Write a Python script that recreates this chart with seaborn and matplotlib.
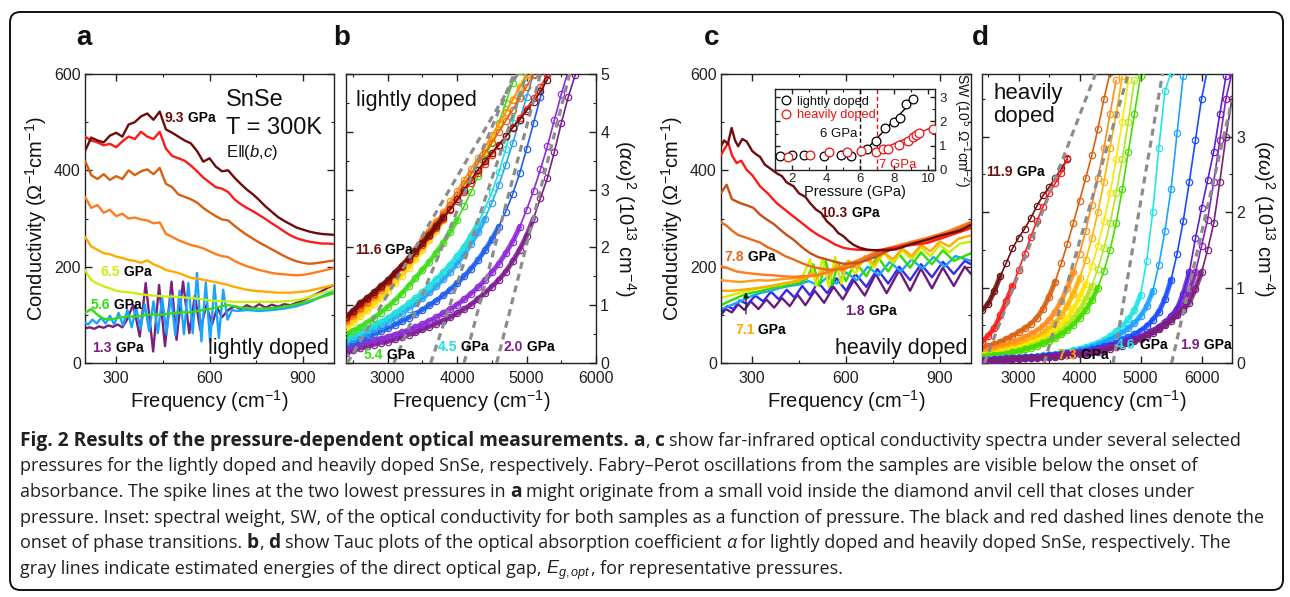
import numpy as np
import matplotlib
matplotlib.use("Agg")
import matplotlib.pyplot as plt
import seaborn as sns
from matplotlib.ticker import MultipleLocator
from matplotlib.patches import FancyBboxPatch
from matplotlib.lines import Line2D

# ---------------- panel a : lightly doped, far-IR conductivity (grid 200..1000 step 20)
A_START, A_STEP = 200, 20
a_maroon = [440,468,462,458,472,478,470,495,500,512,518,505,522,485,478,470,462,456,440,418,425,408,398,400,385,372,360,350,338,325,314,303,295,288,281,277,273,270,268,267,266]
a_red = [470,462,458,452,455,448,460,470,465,480,470,465,480,445,430,425,420,410,398,385,375,365,362,355,340,330,322,315,307,299,290,282,273,265,259,255,252,250,248,248,247]
a_dorange = [420,390,382,392,380,388,382,400,390,398,402,392,405,372,365,350,345,340,333,322,313,305,298,296,285,275,266,258,250,243,236,229,222,216,211,208,206,207,209,211,213]
a_orange = [345,322,328,312,318,305,310,300,302,298,296,290,292,268,262,255,250,245,242,238,232,226,222,220,212,206,201,197,193,190,187,185,184,183,182,183,185,188,191,194,197]
a_amber = [262,242,235,228,226,221,218,214,212,208,213,205,200,193,190,187,182,177,175,173,170,168,165,162,158,155,152,150,149,148,147,146,146,146,147,148,150,153,156,159,162]
a_ygreen = [193,172,165,159,155,150,148,147,145,143,141,140,139,138,138,137,136,135,134,132,130,129,128,128,127,127,127,127,127,127,127,127,128,129,130,133,137,141,145,149,152]
a_green = [104,112,100,92,90,93,95,97,96,98,100,101,100,102,103,104,106,105,108,110,112,115,118,120,118,115,114,113,113,113,114,115,117,119,122,125,129,133,137,141,145]
a_lblue_f = [200,210,224,238,252,266,280,294,308,322,336,350,364,378,392,406,420,434,448,462,476,490,504,518,532,546,560,574,588,602,616,630,644,658,672,690,720,760,800,840,880,920,960,1000]
a_lblue_s = [84,80,90,82,94,82,98,80,104,78,110,74,116,70,122,66,128,62,135,60,142,58,150,60,166,62,187,45,167,45,162,52,152,90,110,108,110,108,110,113,118,126,138,150]
a_purple_f = [200,215,230,245,260,275,290,305,320,335,355,376,395,419,438,457,478,494,515,535,553,570,590,608,625,640,660,680,700,720,740,760,780,800,820,840,860,880,900,940,980,1000]
a_purple_s = [72,74,71,76,73,78,75,80,74,90,121,55,166,24,162,35,169,48,169,62,140,69,120,80,115,95,110,118,112,120,114,122,115,121,117,122,120,125,130,142,156,162]

# ---------------- panel b : lightly doped Tauc plot (grid from 2400 step 100)
B_START, B_STEP = 2400, 100
b_dpurple = [.18,.22,.26,.29,.32,.35,.37,.41,.45,.49,.53,.58,.63,.68,.73,.79,.86,.93,1.01,1.11,1.21,1.32,1.44,1.58,1.76,1.96,2.20,2.50,2.85,3.20,3.65,4.15,4.60,4.98]
b_violet = [.25,.29,.33,.36,.39,.42,.45,.49,.53,.57,.62,.67,.73,.79,.86,.93,1.01,1.10,1.20,1.31,1.43,1.57,1.72,1.90,2.10,2.35,2.65,2.98,3.35,3.75,4.20,4.65,5.05]
b_blue = [.32,.36,.40,.45,.50,.55,.60,.66,.72,.78,.85,.92,1.00,1.08,1.17,1.27,1.38,1.50,1.63,1.78,1.95,2.14,2.36,2.62,2.92,3.28,3.70,4.15,4.60,5.02]
b_azure = [.36,.41,.46,.52,.58,.64,.71,.78,.86,.94,1.03,1.12,1.22,1.33,1.45,1.58,1.72,1.88,2.06,2.26,2.50,2.77,3.08,3.43,3.80,4.20,4.60,5.0]
b_cyan = [.42,.47,.53,.59,.65,.71,.78,.86,.94,1.03,1.12,1.22,1.33,1.45,1.57,1.70,1.85,2.01,2.20,2.42,2.67,2.95,3.30,3.70,4.15,4.62,5.0]
b_green = [.50,.56,.62,.70,.78,.87,.97,1.08,1.20,1.33,1.47,1.61,1.75,1.91,2.08,2.27,2.48,2.71,2.96,3.23,3.52,3.83,4.15,4.50,4.85,5.05]
b_yellow = [.62,.71,.81,.91,1.02,1.13,1.25,1.38,1.51,1.65,1.80,1.96,2.12,2.29,2.47,2.65,2.84,3.04,3.24,3.45,3.66,3.88,4.10,4.33,4.56,4.80,5.02]
b_orange = [.72,.82,.93,1.04,1.15,1.27,1.39,1.52,1.66,1.81,1.96,2.12,2.28,2.45,2.62,2.80,2.98,3.17,3.36,3.55,3.74,3.94,4.14,4.34,4.55,4.76,4.98]
b_dorange = [.74,.84,.95,1.06,1.17,1.29,1.41,1.54,1.67,1.81,1.95,2.10,2.25,2.41,2.57,2.74,2.91,3.09,3.27,3.45,3.63,3.81,4.00,4.19,4.38,4.58,4.78,4.99]
b_red = [.78,.88,1.0,1.1,1.2,1.31,1.42,1.54,1.66,1.78,1.91,2.05,2.19,2.34,2.49,2.64,2.80,2.96,3.12,3.28,3.44,3.60,3.76,3.92,4.08,4.24,4.40,4.58,4.78,4.98]
b_dred = [.80,.90,1.03,1.12,1.22,1.33,1.43,1.56,1.68,1.80,1.94,2.08,2.22,2.37,2.52,2.67,2.83,3.00,3.17,3.34,3.49,3.64,3.78,3.92,4.07,4.21,4.36,4.52,4.70,4.90]
b_fit_x0 = [2420, 3090, 3620, 4100, 4570]
b_fit_x1 = [4870, 4820, 5000, 5200, 5620]
b_fit_y1 = [5.0, 5.0, 5.0, 5.0, 5.0]

# ---------------- panel c : heavily doped, far-IR conductivity
c_maroon_f = [200,210,222,234,245,255,268,282,300,315,325,340,355,378,395,410,432,450,470,485,505,520,539,560,575,592,610,625,645,670,699,730,760,800,859,900,966,1000]
c_maroon_s = [450,462,455,488,462,450,465,460,440,432,428,412,405,394,388,375,367,352,345,332,318,312,294,282,270,263,252,245,239,235,234,234,236,245,256,264,275,287]
c_red_f = [200,212,223,236,250,265,282,300,325,350,378,405,432,460,485,510,539,565,592,620,645,699,752,800,859,920,1000]
c_red_s = [432,445,457,430,415,420,401,390,367,352,332,318,304,290,277,266,256,246,239,236,235,234,239,244,249,262,280]
c_burnt_f = [200,218,235,261,280,304,325,346,370,389,410,432,460,485,510,539,565,592,620,645,670,699,752,800,859,920,1000]
c_burnt_s = [353,370,340,332,328,322,308,298,288,277,266,256,240,228,220,215,210,206,207,209,214,222,238,247,256,268,284]
c_or78_f = [200,218,235,254,272,290,325,350,378,405,432,460,485,510,539,565,592,620,645,670,699,752,800,859,920,1000]
c_or78_s = [292,285,275,266,262,258,250,240,232,222,215,207,201,197,194,194,195,201,209,218,228,239,246,254,266,290]
c_or2_f = [200,225,250,280,310,340,370,400,432,460,490,520,550,580,610,645,680,720,760,800,860,920,1000]
c_or2_s = [201,196,190,187,185,183,182,180,179,180,181,184,190,198,206,215,226,236,243,250,260,272,293]
c_or3_f = [200,230,260,290,320,350,380,410,440,470,500,530,560,590,620,650,690,730,770,810,860,920,1000]
c_or3_s = [172,170,168,170,172,171,173,175,176,178,182,186,192,200,208,216,225,233,240,246,254,265,282]
c_amber_f = [200,240,280,320,360,400,440,470,490,510,530,550,570,590,610,635,660,690,720,750,780,810,840,870,900,930,960,1000]
c_amber_s = [150,150,153,156,160,165,170,176,188,178,196,180,205,188,212,196,222,205,230,215,238,222,245,232,252,242,258,265]
c_ygreen_f = [200,230,260,290,320,350,380,410,440,465,485,505,525,545,565,585,605,630,660,690,720,750,780,810,840,870,900,930,965,1000]
c_ygreen_s = [135,140,146,150,155,158,162,166,170,185,215,160,218,158,220,165,212,185,220,198,228,208,234,215,240,222,245,230,248,252]
c_green_f = [200,225,250,275,300,330,360,390,420,450,475,495,515,535,555,575,600,630,665,700,735,770,805,840,875,910,945,1000]
c_green_s = [120,128,135,142,146,150,155,158,162,166,175,205,160,212,162,208,170,210,180,222,190,226,198,230,205,234,212,228]
c_azure_f = [200,225,250,275,300,330,360,390,420,450,480,510,540,570,600,635,670,705,740,775,810,845,880,915,950,1000]
c_azure_s = [112,118,125,132,140,146,150,156,160,163,170,162,178,165,188,172,200,182,210,190,215,196,220,200,222,212]
c_blue_f = [200,220,240,260,285,310,335,360,385,410,435,460,485,510,540,570,600,630,665,700,735,770,805,840,875,910,945,980,1000]
c_blue_s = [105,118,112,130,122,140,128,148,132,152,136,160,140,168,145,176,150,185,158,195,165,200,172,205,178,210,185,212,205]
c_purple_f = [200,215,235,255,275,295,320,345,370,395,420,445,470,500,530,560,590,625,660,695,730,770,805,840,875,910,945,980,1000]
c_purple_s = [100,112,105,122,110,128,112,132,115,135,118,142,120,150,125,158,132,172,140,185,145,192,150,196,155,198,160,200,185]

# inset: spectral weight vs pressure
sw_light_p = [1.28, 2.0, 2.7, 3.85, 4.85, 5.47, 6.39, 6.93, 7.48, 7.97, 8.34, 8.69, 9.12]
sw_light = [0.58, 0.62, 0.62, 0.58, 0.62, 0.59, 0.87, 1.21, 1.72, 1.99, 2.13, 2.71, 2.92]
sw_heavy_p = [1.77, 3.03, 4.2, 5.22, 6.06, 6.93, 7.32, 7.65, 8.3, 8.79, 9.12, 9.27, 9.47, 10.3]
sw_heavy = [0.52, 0.62, 0.73, 0.76, 0.78, 0.76, 0.85, 0.87, 1.03, 1.21, 1.35, 1.44, 1.51, 1.70]
sw_light_fit_p = [6.0, 9.3]
sw_light_fit = [0.58, 3.0]
sw_heavy_fit_p = [7.0, 10.3]
sw_heavy_fit = [0.78, 1.78]
sw_onsets = [6.0, 7.0]

# ---------------- panel d : heavily doped Tauc plot (grid from 2400 step 100)
d_dred = [0.70,0.78,0.95,1.15,1.33,1.52,1.66,1.78,1.92,2.08,2.22,2.33,2.45,2.58,2.70]
d_red = [0.28,0.36,0.46,0.63,0.82,1.02,1.23,1.45,1.67,1.88,2.07,2.25,2.38,2.52,2.72]
d_dorange = [0.20,0.22,0.25,0.28,0.32,0.36,0.41,0.46,0.52,0.60,0.72,0.88,1.08,1.32,1.58,1.86,2.15,2.45,2.75,3.10,3.50,3.85]
d_orange = [0.15,0.17,0.19,0.21,0.24,0.27,0.30,0.34,0.38,0.43,0.49,0.57,0.68,0.82,1.00,1.20,1.45,1.75,2.10,2.45,2.85,3.30,3.75]
d_amber = [0.12,0.13,0.15,0.17,0.19,0.21,0.24,0.27,0.30,0.34,0.39,0.45,0.53,0.63,0.76,0.92,1.12,1.36,1.65,2.00,2.40,2.85,3.30,3.80]
d_yellow = [0.10,0.11,0.12,0.14,0.16,0.18,0.20,0.23,0.26,0.29,0.33,0.38,0.44,0.51,0.60,0.72,0.87,1.05,1.28,1.55,1.88,2.25,2.70,3.20,3.75]
d_ygreen = [0.09,0.10,0.11,0.12,0.13,0.15,0.17,0.19,0.22,0.25,0.28,0.32,0.37,0.43,0.50,0.59,0.70,0.84,1.02,1.25,1.52,1.85,2.25,2.70,3.20,3.75]
d_green = [0.08,0.09,0.10,0.11,0.12,0.14,0.16,0.18,0.20,0.23,0.26,0.29,0.33,0.38,0.44,0.51,0.60,0.70,0.83,1.00,1.22,1.50,1.85,2.30,2.80,3.30,3.80]
d_cyan = [0.045,0.05,0.055,0.06,0.065,0.07,0.075,0.08,0.085,0.09,0.10,0.11,0.12,0.135,0.15,0.17,0.19,0.21,0.24,0.27,0.31,0.36,0.42,0.49,0.58,0.70,0.90,1.35,2.00,2.85,3.60,3.85]
d_azure = [0.04,0.045,0.05,0.055,0.06,0.065,0.07,0.075,0.08,0.085,0.09,0.10,0.11,0.12,0.135,0.15,0.17,0.19,0.21,0.24,0.27,0.31,0.35,0.40,0.46,0.53,0.62,0.75,0.95,1.30,1.75,2.30,3.05,3.80]
d_blue = [0.04,0.045,0.05,0.055,0.06,0.065,0.07,0.075,0.08,0.085,0.09,0.10,0.11,0.12,0.13,0.14,0.15,0.16,0.18,0.20,0.22,0.24,0.27,0.30,0.34,0.38,0.43,0.49,0.57,0.68,0.85,1.10,1.45,1.88,2.40,2.95,3.50,3.90]
d_violet = [0.035,0.04,0.045,0.05,0.055,0.06,0.065,0.07,0.075,0.08,0.085,0.09,0.10,0.11,0.12,0.13,0.14,0.15,0.16,0.18,0.20,0.22,0.24,0.26,0.29,0.32,0.35,0.39,0.43,0.48,0.54,0.62,0.72,0.92,1.20,1.65,2.05,2.42,2.80,3.30,3.80]
d_purple = [0.03,0.035,0.04,0.045,0.05,0.055,0.06,0.065,0.07,0.075,0.08,0.085,0.09,0.10,0.11,0.12,0.13,0.14,0.15,0.17,0.19,0.21,0.23,0.25,0.28,0.31,0.34,0.38,0.42,0.47,0.52,0.58,0.65,0.75,0.95,1.20,1.55,1.90,2.40,2.95,3.50,3.85]
d_dpurple = [0.03,0.03,0.035,0.04,0.045,0.05,0.055,0.06,0.065,0.07,0.075,0.08,0.085,0.09,0.10,0.11,0.12,0.13,0.14,0.15,0.17,0.19,0.21,0.23,0.26,0.29,0.32,0.36,0.40,0.45,0.50,0.56,0.63,0.70,0.80,0.98,1.20,1.50,1.85,2.40,3.00,3.50]
d_fit_x0 = [2440, 3420, 4550, 5510]
d_fit_x1 = [4260, 4800, 5360, 6500]
d_fit_y1 = [3.83, 3.83, 3.83, 3.48]

# ---------------- style
sns.set_theme(style="ticks")
plt.rcParams["font.family"] = ["Liberation Sans", "DejaVu Sans"]
plt.rcParams.update({
    "mathtext.fontset": "custom", "mathtext.rm": "Liberation Sans",
    "mathtext.it": "Liberation Sans:italic", "mathtext.bf": "Liberation Sans:bold",
    "xtick.direction": "in", "ytick.direction": "in",
    "axes.linewidth": 1.0, "axes.edgecolor": "#222222",
    "xtick.major.size": 5, "ytick.major.size": 5,
    "xtick.minor.size": 2.5, "ytick.minor.size": 2.5,
    "xtick.major.width": 1.0, "ytick.major.width": 1.0,
    "xtick.minor.width": 0.8, "ytick.minor.width": 0.8,
    "xtick.color": "#222222", "ytick.color": "#222222",
    "text.color": "#111111", "axes.labelcolor": "#111111",
})

W, H = 1290, 597
fig = plt.figure(figsize=(W / 100, H / 100), dpi=100)

def ax_at(left_px, right_px, top_px=74, bottom_px=363):
    return fig.add_axes([left_px / W, 1 - bottom_px / H, (right_px - left_px) / W, (bottom_px - top_px) / H])

axa = ax_at(85, 334)
axb = ax_at(346, 596)
axc = ax_at(721, 971)
axd = ax_at(982, 1232)

def style(ax, xlim, ylim, xmaj, xmin, ymaj, ymin, right=False, size=11.5, xpad=6):
    ax.set_xlim(*xlim)
    ax.set_ylim(*ylim)
    ax.xaxis.set_major_locator(MultipleLocator(xmaj))
    ax.xaxis.set_minor_locator(MultipleLocator(xmin))
    ax.yaxis.set_major_locator(MultipleLocator(ymaj))
    ax.yaxis.set_minor_locator(MultipleLocator(ymin))
    ax.tick_params(which="both", direction="in", top=True, right=True, labelsize=size)
    ax.tick_params(axis="x", pad=xpad)
    ax.tick_params(axis="y", pad=3)
    if right:
        ax.tick_params(axis="y", labelleft=False, labelright=True)
    ax.set_facecolor("white")

def curve(ax, x, y, color, lw=1.7, z=2, **kw):
    sns.lineplot(x=np.asarray(x, float), y=np.asarray(y, float), ax=ax, color=color, lw=lw,
                 estimator=None, sort=False, legend=False, zorder=z, **kw)

def grid(vals, start, step):
    return start + step * np.arange(len(vals))

def tauc(ax, vals, color, z, band_max):
    x = grid(vals, B_START, B_STEP)
    y = np.asarray(vals, float)
    low = y <= band_max
    curve(ax, x[low], y[low], color, lw=3.6, z=z, alpha=0.85)
    curve(ax, x, y, color, lw=1.2, z=z + 0.05, marker="o", markersize=4.6,
          markerfacecolor="none", markeredgecolor=color, markeredgewidth=0.85)

def gpa(ax, x, y, num, color, size=10):
    ax.text(x, y, num, color=color, ha="right", va="center", fontsize=size, fontweight="bold", zorder=20)
    ax.text(x, y, " GPa", color="black", ha="left", va="center", fontsize=size, fontweight="bold", zorder=20)

freq_label = "Frequency (cm$^{-1}$)"
cond_label = "Conductivity ($\\Omega^{-1}$cm$^{-1}$)"
tauc_label = "($\\alpha\\omega$)$^2$ (10$^{13}$ cm$^{-4}$)"

# ---------- panel a
style(axa, (200, 1000), (0, 600), 300, 150, 200, 100)
curve(axa, a_purple_f, a_purple_s, "#7b1f7b", z=2)
curve(axa, a_lblue_f, a_lblue_s, "#1aa3ff", z=3)
a_set = [(a_green, "#33dd11"), (a_ygreen, "#ccee11"), (a_amber, "#ffaa00"), (a_orange, "#ff7b1c"),
         (a_dorange, "#d9600f"), (a_red, "#ff1a1a"), (a_maroon, "#6b0d0d")]
for i, (vals, col) in enumerate(a_set):
    curve(axa, grid(vals, A_START, A_STEP), vals, col, z=4 + i)
axa.set_xlabel(freq_label, fontsize=14.5, labelpad=1)
axa.set_ylabel(cond_label, fontsize=14.5, labelpad=4)
gpa(axa, 518, 509, "9.3", "#6b0d0d")
gpa(axa, 312, 189, "6.5", "#ccee11")
gpa(axa, 280, 120, "5.6", "#33dd11")
gpa(axa, 287, 31, "1.3", "#7b1f7b")
axa.text(0.566, 0.91, "SnSe", transform=axa.transAxes, fontsize=17, va="center", ha="left")
axa.text(0.566, 0.813, "T = 300K", transform=axa.transAxes, fontsize=17, va="center", ha="left")
axa.text(0.566, 0.727, "E$\\Vert$($b$,$c$)", transform=axa.transAxes, fontsize=12, va="center", ha="left")
axa.text(0.978, 0.05, "lightly doped", transform=axa.transAxes, fontsize=15.5, va="center", ha="right")

# ---------- panel b
style(axb, (2400, 6000), (0, 5), 1000, 500, 1, 0.5, right=True)
b_set = [(b_dpurple, "#7d1e8c"), (b_violet, "#8e2bd6"), (b_blue, "#1f5fe8"), (b_azure, "#2aa2f5"),
         (b_cyan, "#22dede"), (b_green, "#3fdc1a"), (b_yellow, "#ffd800"), (b_orange, "#ff8c1a"),
         (b_dorange, "#e8620f"), (b_red, "#ff2a10"), (b_dred, "#6e1010")]
for i, (vals, col) in enumerate(b_set):
    tauc(axb, vals, col, 2 + i * 0.1, 2.6)
for x0, x1, y1 in zip(b_fit_x0, b_fit_x1, b_fit_y1):
    curve(axb, [x0, x1], [0, y1], "#8c8c8c", lw=2.3, z=10, dashes=(2.2, 1.6))
axb.set_xlabel(freq_label, fontsize=14.5, labelpad=1)
axb.yaxis.set_label_position("right")
axb.set_ylabel(tauc_label, fontsize=14.5, rotation=270, va="bottom", labelpad=2)
axb.text(0.04, 0.91, "lightly doped", transform=axb.transAxes, fontsize=15.5, va="center", ha="left")
gpa(axb, 2911, 1.95, "11.6", "#6e1010")
gpa(axb, 2933, 0.14, "5.4", "#3fdc1a")
gpa(axb, 4000, 0.27, "4.5", "#22dede")
gpa(axb, 4950, 0.27, "2.0", "#7d1e8c")

# ---------- panel c
style(axc, (200, 1000), (0, 600), 300, 150, 200, 100)
c_set = [(c_purple_f, c_purple_s, "#6b1a7b"), (c_blue_f, c_blue_s, "#3a2ae8"), (c_azure_f, c_azure_s, "#1aa3ff"),
         (c_green_f, c_green_s, "#33dd00"), (c_ygreen_f, c_ygreen_s, "#ccee00"), (c_amber_f, c_amber_s, "#ffaa00"),
         (c_or3_f, c_or3_s, "#ff9a1a"), (c_or2_f, c_or2_s, "#ff7a1a"), (c_or78_f, c_or78_s, "#e86a1c"),
         (c_burnt_f, c_burnt_s, "#c4501a"), (c_red_f, c_red_s, "#ff1a1a"), (c_maroon_f, c_maroon_s, "#6b0d0d")]
for i, (f, s, col) in enumerate(c_set):
    curve(axc, f, s, col, z=2 + i * 0.1)
axc.set_xlabel(freq_label, fontsize=14.5, labelpad=1)
axc.set_ylabel(cond_label, fontsize=14.5, labelpad=4)
gpa(axc, 605, 311, "10.3", "#6b0d0d")
gpa(axc, 273, 221, "7.8", "#e86a1c")
gpa(axc, 307, 69, "7.1", "#ffaa00")
gpa(axc, 661, 107, "1.8", "#6b1a7b")
axc.annotate("", xy=(280, 153), xytext=(280, 96),
             arrowprops=dict(arrowstyle="-|>", color="#222222", lw=0.9, mutation_scale=8), zorder=20)
axc.text(0.985, 0.05, "heavily doped", transform=axc.transAxes, fontsize=15.5, va="center", ha="right")

# inset
axi = fig.add_axes([775 / W, 1 - 170 / H, 160 / W, 81 / H])
style(axi, (1.0, 10.4), (0, 3.33), 2, 1, 1, 0.5, right=True, size=9.5, xpad=2)
axi.tick_params(which="major", length=3.5)
axi.tick_params(which="minor", length=2)
axi.axvline(sw_onsets[0], color="black", lw=1.0, ls=(0, (3, 2)), zorder=1)
axi.axvline(sw_onsets[1], color="#ee1111", lw=1.0, ls=(0, (3, 2)), zorder=1)
curve(axi, sw_light_fit_p, sw_light_fit, "black", lw=1.0, z=2)
curve(axi, sw_heavy_fit_p, sw_heavy_fit, "#ee1111", lw=1.0, z=2)
curve(axi, sw_light_p, sw_light, "black", lw=0, z=3, marker="o", markersize=6.3,
      markerfacecolor="white", markeredgecolor="black", markeredgewidth=0.9)
curve(axi, sw_heavy_p, sw_heavy, "#ee1111", lw=0, z=3, marker="o", markersize=6.3,
      markerfacecolor="white", markeredgecolor="#ee1111", markeredgewidth=0.9)
axi.set_xlabel("Pressure (GPa)", fontsize=10.5, labelpad=0)
axi.yaxis.set_label_position("right")
axi.set_ylabel("SW (10$^5$ $\\Omega^{-1}$cm$^{-2}$)", fontsize=10, rotation=270, va="bottom", labelpad=3)
axi.text(5.85, 1.48, "6 GPa", ha="right", va="center", fontsize=9.5)
axi.text(7.1, 0.22, "7 GPa", ha="left", va="center", fontsize=9.5, color="#ee1111")
hnd = [Line2D([], [], ls="", marker="o", ms=6.3, mfc="none", mec="black", mew=0.9),
       Line2D([], [], ls="", marker="o", ms=6.3, mfc="none", mec="#ee1111", mew=0.9)]
leg = axi.legend(hnd, ["lightly doped", "heavily doped"], loc="upper left", bbox_to_anchor=(-0.03, 1.03),
                 frameon=False, fontsize=9.2, handletextpad=0.4, borderpad=0.2, labelspacing=0.15, handlelength=1.0)
leg.get_texts()[1].set_color("#ee1111")

# ---------- panel d
style(axd, (2400, 6500), (0, 3.83), 1000, 500, 1, 0.5, right=True)
d_set = [(d_dred, "#6e1010"), (d_red, "#ff1a1a"), (d_dorange, "#d9600f"), (d_orange, "#ff8c1a"),
         (d_amber, "#ffb300"), (d_yellow, "#ffe600"), (d_ygreen, "#b5e61d"), (d_green, "#44dd00"),
         (d_cyan, "#22e5e5"), (d_azure, "#1aa3ff"), (d_blue, "#1a4cff"), (d_violet, "#5a1fd6"),
         (d_purple, "#8a1fb8"), (d_dpurple, "#7a1f7a")]
for i, (vals, col) in enumerate(d_set):
    tauc(axd, vals, col, 2 + i * 0.1, 1.2)
for x0, x1, y1 in zip(d_fit_x0, d_fit_x1, d_fit_y1):
    curve(axd, [x0, x1], [0, y1], "#8c8c8c", lw=2.3, z=10, dashes=(2.2, 1.6))
axd.set_xlabel(freq_label, fontsize=14.5, labelpad=1)
axd.yaxis.set_label_position("right")
axd.set_ylabel(tauc_label, fontsize=14.5, rotation=270, va="bottom", labelpad=4)
axd.text(0.045, 0.97, "heavily\ndoped", transform=axd.transAxes, fontsize=16, va="top", ha="left", linespacing=1.15)
gpa(axd, 2908, 2.53, "11.9", "#6e1010")
gpa(axd, 3958, 0.10, "7.3", "#ffaa00")
gpa(axd, 4921, 0.24, "4.6", "#22e5e5")
gpa(axd, 5975, 0.24, "1.9", "#7a1f7a")

# ---------- panel letters
for lab, xp in [("a", 84), ("b", 342), ("c", 712), ("d", 980)]:
    fig.text(xp / W, 1 - 38 / H, lab, fontsize=20, fontweight="bold", ha="center", va="center")

# ---------- frame
fig.patches.append(FancyBboxPatch((10 / W, 1 - 590 / H), 1273 / W, 578 / H,
                                  boxstyle="round,pad=0,rounding_size=0.008", mutation_aspect=W / H,
                                  transform=fig.transFigure, fill=False, lw=1.4, ec="#111111"))

# ---------- caption
R = fig.canvas.get_renderer()
cap_family = ["Open Sans", "DejaVu Sans"]

def _kw(kind, size):
    kw = dict(fontsize=size, family=cap_family, color="#231f20", va="baseline", ha="left")
    if kind == "b":
        kw["fontweight"] = "bold"
        kw["fontsize"] = size * 1.06
    if kind == "i":
        kw["fontstyle"] = "italic"
    return kw

def width(s, kind, size):
    t = fig.text(0, 0, s, **_kw(kind, size))
    w = t.get_window_extent(renderer=R).width
    t.remove()
    return w

lines = [
    [("Fig. 2 Results of the pressure-dependent optical measurements.", "b"), (" ", "n"), ("a", "b"), (",", "n"), (" ", "n"), ("c", "b"),
     (" ", "n"), ("show far-infrared optical conductivity spectra under several selected", "n")],
    [("pressures for the lightly doped and heavily doped SnSe, respectively. Fabry\u2013Perot oscillations from the samples are visible below the onset of", "n")],
    [("absorbance. The spike lines at the two lowest pressures in", "n"), (" ", "n"), ("a", "b"), (" ", "n"),
     ("might originate from a small void inside the diamond anvil cell that closes under", "n")],
    [("pressure. Inset: spectral weight, SW, of the optical conductivity for both samples as a function of pressure. The black and red dashed lines denote the", "n")],
    [("onset of phase transitions.", "n"), (" ", "n"), ("b", "b"), (",", "n"), (" ", "n"), ("d", "b"), (" ", "n"),
     ("show Tauc plots of the optical absorption coefficient", "n"), (" ", "n"), ("\u03b1", "i"), (" ", "n"),
     ("for lightly doped and heavily doped SnSe, respectively. The", "n")],
    [("gray lines indicate estimated energies of the direct optical gap,", "n"), (" ", "n"), ("$E_{g,opt}$", "i"), (",", "n"), (" ", "n"),
     ("for representative pressures.", "n")],
]
base = 12.0
w4 = width(lines[3][0][0], "n", base)
cap_size = base * 1243.0 / w4
space_w = width("n n", "n", cap_size) - width("nn", "n", cap_size)
baselines = [446, 471, 497, 523, 548, 574]
for segs, yb in zip(lines, baselines):
    x = 20.0
    for s, kind in segs:
        if s == " ":
            x += space_w
            continue
        t = fig.text(x / W, 1 - yb / H, s, **_kw(kind, cap_size))
        x += t.get_window_extent(renderer=R).width

fig.savefig("out.png", dpi=100)
